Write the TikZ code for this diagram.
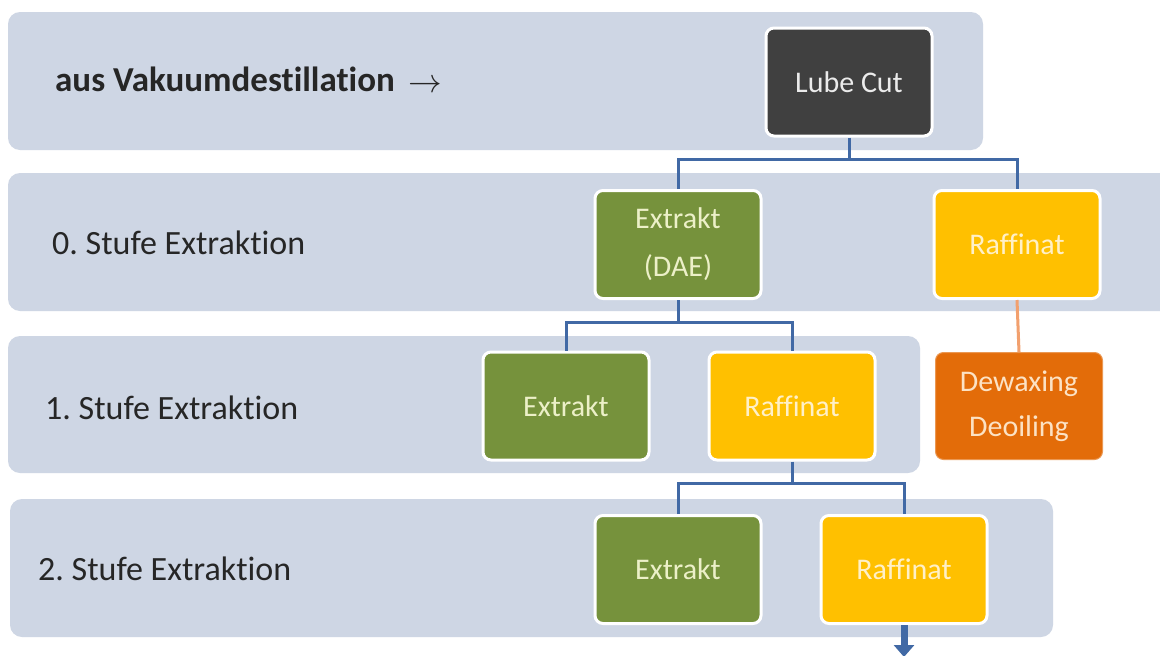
\documentclass[tikz,border=0pt]{standalone}
\usepackage{fontspec}
\setmainfont{Carlito}[Ligatures=NoCommon]
\usetikzlibrary{arrows.meta}
\frenchspacing
\definecolor{bandc}{RGB}{206,214,228}
\definecolor{darkc}{RGB}{64,64,64}
\definecolor{greenc}{RGB}{118,146,60}
\definecolor{yellowc}{RGB}{255,192,0}
\definecolor{orangec}{RGB}{227,108,9}
\definecolor{connc}{RGB}{65,105,165}
\definecolor{oconnc}{RGB}{242,160,110}
\definecolor{greentxt}{RGB}{236,240,200}
\definecolor{yellowtxt}{RGB}{255,240,200}
\definecolor{orangetxt}{RGB}{252,226,196}
\tikzset{
  band/.style={fill=bandc, rounded corners=12pt},
  box/.style={rectangle, rounded corners=8pt, draw=white, line width=3pt,
    minimum width=166pt, minimum height=108pt, align=center,
    font=\fontsize{30}{48}\selectfont},
  darkbox/.style={box, fill=darkc, text=white!92!black},
  greenbox/.style={box, fill=greenc, text=greentxt},
  yellowbox/.style={box, fill=yellowc, text=yellowtxt},
  orangebox/.style={box, fill=orangec, text=orangetxt, draw=orangec!70!white, line width=1pt, font=\fontsize{30}{45}\selectfont},
  lbl/.style={anchor=west, inner sep=0pt, text=black!85, font=\fontsize{34}{38}\selectfont},
  conn/.style={draw=connc, line width=3pt},
  oconn/.style={draw=oconnc, line width=3pt}
}
\begin{document}
\begin{tikzpicture}[x=1pt,y=-1pt]
\useasboundingbox (0,0) rectangle (1160,656);
\fill[white] (0,0) rectangle (1160,656);
\begin{scope}
\clip (0,0) rectangle (1160,656);
\fill[band] (8,12) rectangle (983,150);
\fill[band] (8,173) rectangle (1190,311);
\fill[band] (8,336) rectangle (920,473);
\fill[band] (10,499) rectangle (1053,637);
\end{scope}

\node[lbl, font=\fontsize{35}{38}\selectfont\bfseries] (l0) at (55,80) {aus Vakuumdestillation \,\raisebox{-1pt}{\scalebox{1.35}{$\rightarrow$}}};
\node[lbl] (l1) at (52,243) {0. Stufe Extraktion};
\node[lbl] (l2) at (45,408) {1. Stufe Extraktion};
\node[lbl] (l3) at (38,569) {2. Stufe Extraktion};

\node[darkbox] (lube) at (849,82) {Lube Cut};
\node[greenbox] (ext0) at (678,244.5) {Extrakt\\(DAE)};
\node[yellowbox] (raf0) at (1017,244.5) {Raffinat};
\node[greenbox] (ext1) at (566,406) {Extrakt};
\node[yellowbox] (raf1) at (792,406) {Raffinat};
\node[orangebox, minimum width=167pt, minimum height=107pt] (dew) at (1019,406) {Dewaxing\\Deoiling};
\node[greenbox] (ext2) at (678,569.5) {Extrakt};
\node[yellowbox] (raf2) at (904,569.5) {Raffinat};

\path (lube.south) -- ++(0,22) coordinate (j0);
\path (ext0.south) -- ++(0,22) coordinate (j1);
\path (raf1.south) -- ++(0,22) coordinate (j2);
\coordinate (aend) at (904,657);

\draw[conn] (lube.south) -- (j0);
\draw[conn] (ext0.north) |- (j0) -| (raf0.north);
\draw[conn] (ext0.south) -- (j1);
\draw[conn] (ext1.north) |- (j1) -| (raf1.north);
\draw[conn] (raf1.south) -- (j2);
\draw[conn] (ext2.north) |- (j2) -| (raf2.north);
\draw[oconn] (raf0.south) -- (dew.north);
\draw[draw=connc, line width=7pt, -{Triangle[width=20pt,length=12pt]}] (raf2.south) -- (aend);
\end{tikzpicture}
\end{document}
